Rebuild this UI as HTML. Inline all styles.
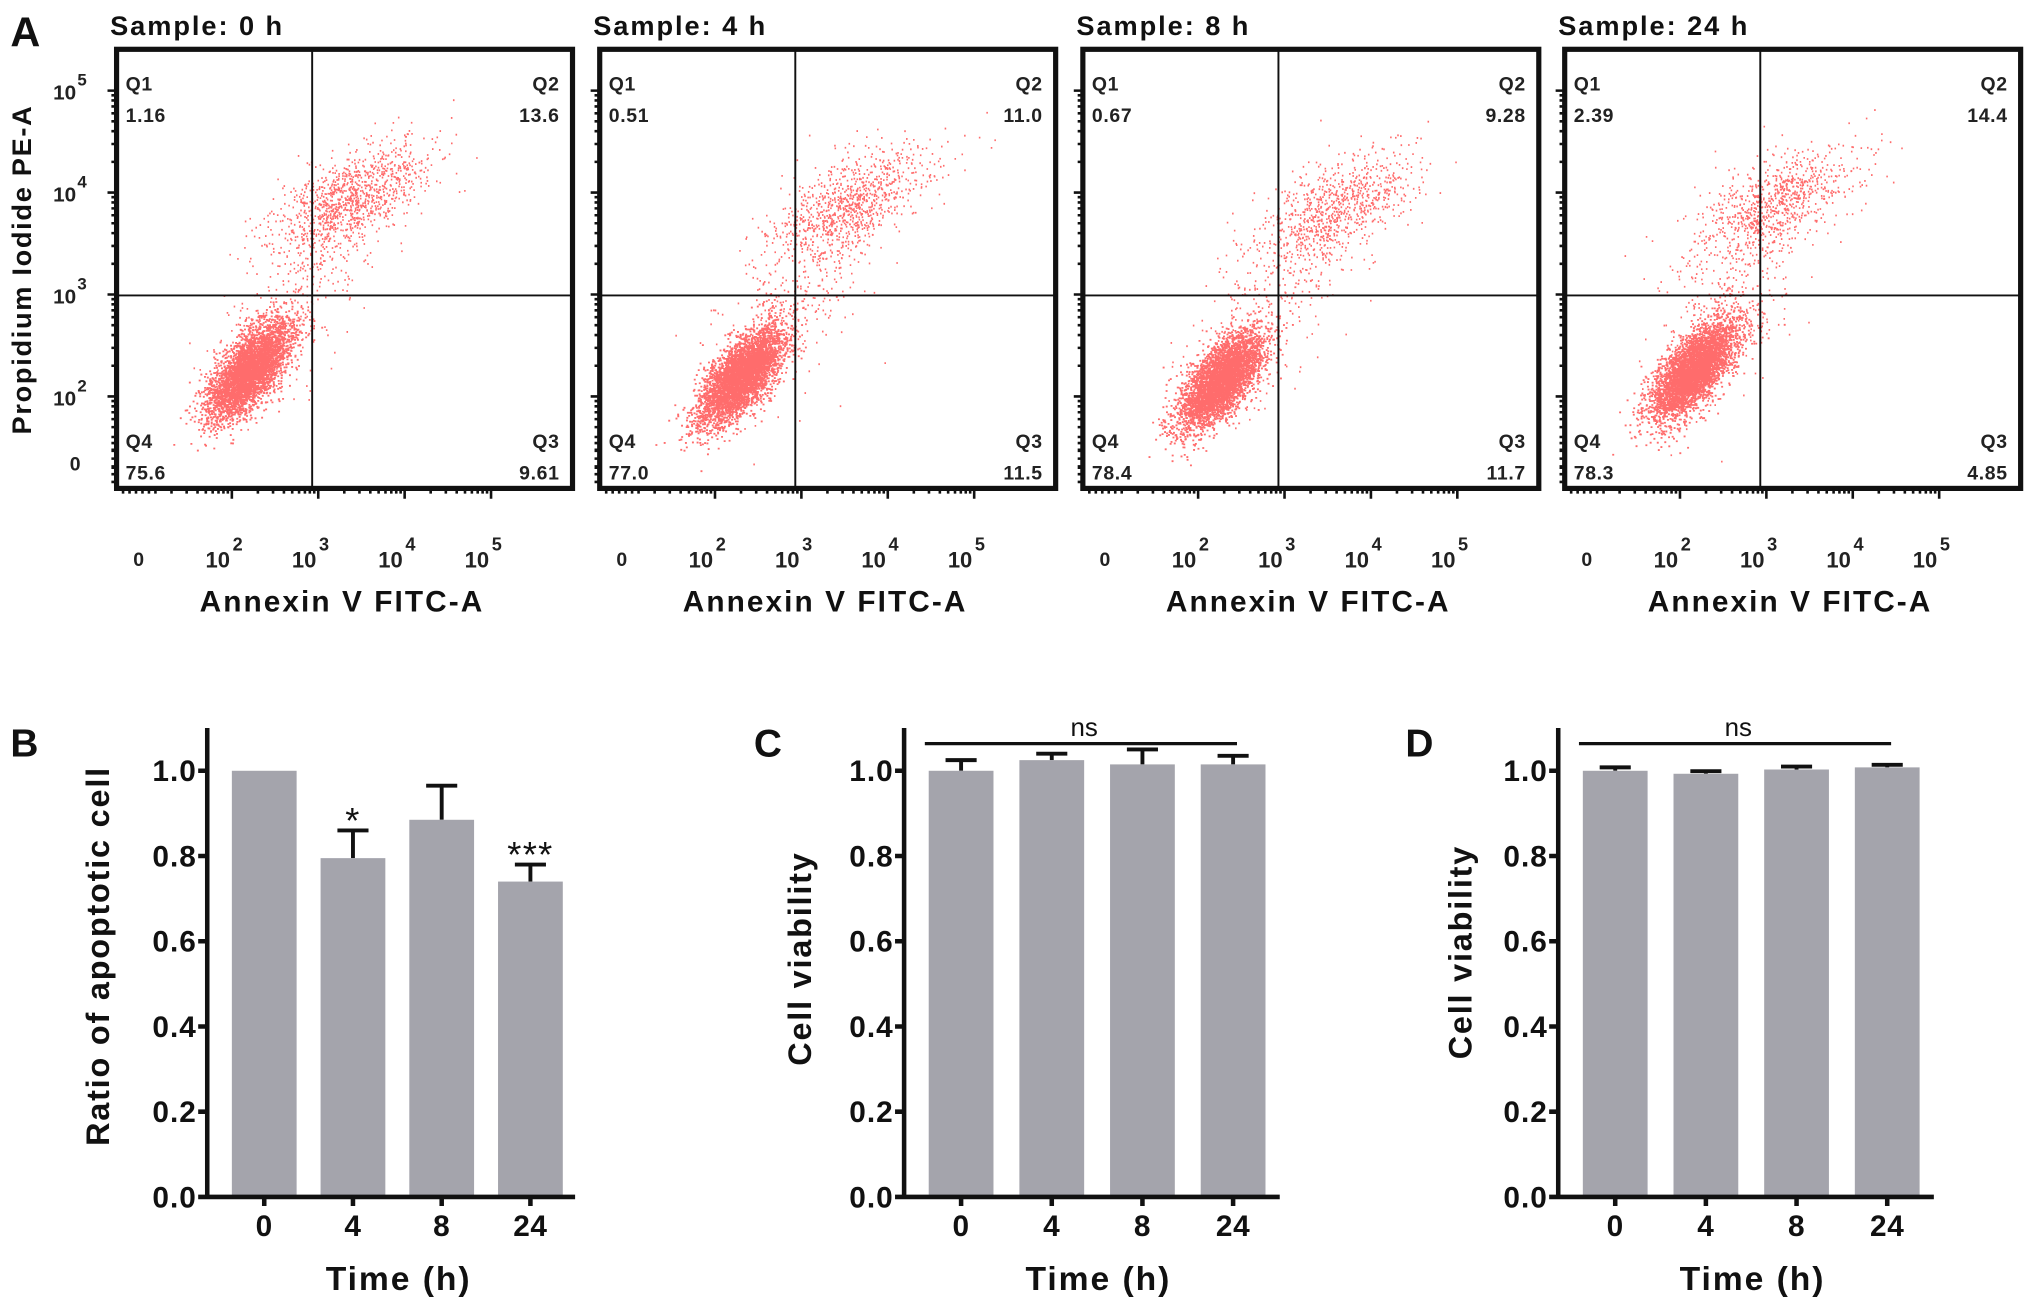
<!DOCTYPE html>
<html><head><meta charset="utf-8">
<style>
html,body{margin:0;padding:0;background:#fff;}
svg{display:block;font-family:"Liberation Sans",Arial,sans-serif;font-weight:bold;}
</style></head>
<body>
<svg id="fig" width="2031" height="1311" viewBox="0 0 1568 1012" xmlns="http://www.w3.org/2000/svg">
<rect width="1568" height="1012" fill="#fff"/>
<g id="flow"></g>
<g id="bars"></g>
</svg>
<script>
// ---------- Panel A data ----------
const sampleTitles = ["Sample: 0 h","Sample: 4 h","Sample: 8 h","Sample: 24 h"];
const q1Values = ["1.16","0.51","0.67","2.39"];
const q2Values = ["13.6","11.0","9.28","14.4"];
const q3Values = ["9.61","11.5","11.7","4.85"];
const q4Values = ["75.6","77.0","78.4","78.3"];
// cluster centers in log10 units [x,y]
const mainCenters = [[2.2,2.25],[2.3,2.2],[2.25,2.15],[2.15,2.25]];
const upperCenters = [[3.4,3.95],[3.6,3.9],[3.6,3.85],[3.1,3.9]];
const mainCounts = [4200,4300,4300,4300];
const upperCounts = [1000,850,750,800];
const xDecadeTicks = [2,3,4,5];
const yDecadeTicks = [2,3,4,5];

// ---------- Bar data ----------
const timeCats = ["0","4","8","24"];
const bValues = [1.0,0.795,0.885,0.74];
const bErr = [0,0.065,0.08,0.04];
const bStars = ["","*","","***"];
const cValues = [1.0,1.025,1.015,1.015];
const cErr = [0.025,0.015,0.035,0.02];
const dValues = [1.0,0.993,1.003,1.008];
const dErr = [0.008,0.006,0.007,0.006];
const yTicks = [0.0,0.2,0.4,0.6,0.8,1.0];

const SVGNS="http://www.w3.org/2000/svg";
function mk(tag,attrs,parent,text){const e=document.createElementNS(SVGNS,tag);for(const k in attrs)e.setAttribute(k,attrs[k]);if(text!==undefined)e.textContent=text;parent.appendChild(e);return e;}
function rng(seed){return function(){seed|=0;seed=seed+0x6D2B79F5|0;let t=Math.imul(seed^seed>>>15,1|seed);t=t+Math.imul(t^t>>>7,61|t)^t;return((t^t>>>14)>>>0)/4294967296;};}

const flow=document.getElementById('flow');
const lefts=[90,463,836,1208], boxTop=38, bot=377, W=352;
let t=mk('text',{x:8,y:36,'font-size':32,fill:'#111'},flow,'A');


const yl=mk('text',{transform:'translate(24,208) rotate(-90)','text-anchor':'middle','font-size':21,'letter-spacing':1.3,fill:'#111'},flow,'Propidium Iodide PE-A');



for(let i=0;i<4;i++){
  const L=lefts[i];
  const xs=d=>L+89+(d-2)*66.7;
  const ys=d=>306-(d-2)*78.7;
  const g=mk('g',{},flow);
  
  
  let tt=mk('text',{x:L-5,y:27,'font-size':21,'letter-spacing':1.5,fill:'#111'},g,sampleTitles[i]);
  
  
  const r=rng(1234+i*77);
  const gauss=()=>Math.sqrt(-2*Math.log(r()+1e-9))*Math.cos(2*Math.PI*r());
  let d='';
  const [mx,my]=mainCenters[i];
  for(let k=0;k<mainCounts[i];k++){
    const a=gauss()*0.3, b=gauss()*0.14;
    const lx=mx+a*0.75-b*0.6, ly=my+a*0.7+b*0.75;
    const px=xs(lx), py=ys(ly);
    if(px>L+2&&px<L+W-2&&py>boxTop+2&&py<bot-2) d+='M'+px.toFixed(1)+' '+py.toFixed(1)+'h1.5';
  }
  const [ux,uy]=upperCenters[i];
  for(let k=0;k<upperCounts[i];k++){
    const a=gauss()*0.5, b=gauss()*0.2;
    const lx=ux+a*0.9-b*0.4, ly=uy+a*0.4+b*0.9;
    const px=xs(lx), py=ys(ly);
    if(px>L+2&&px<L+W-2&&py>boxTop+2&&py<bot-2) d+='M'+px.toFixed(1)+' '+py.toFixed(1)+'h1.2';
  }
  for(let k=0;k<400;k++){
    const s=r();
    const lx=mx+(ux-mx)*s+gauss()*0.3, ly=my+(uy-my)*s+gauss()*0.3;
    const px=xs(lx), py=ys(ly);
    if(px>L+2&&px<L+W-2&&py>boxTop+2&&py<bot-2) d+='M'+px.toFixed(1)+' '+py.toFixed(1)+'h1.2';
  }
  const pts=mk('path',{d:d,stroke:'#ff3b3b','stroke-width':1.4,'stroke-opacity':0.75,fill:'none'},g);
  
  
  const bx=mk('rect',{x:L,y:boxTop,width:W,height:bot-boxTop,fill:'none',stroke:'#111','stroke-width':4},g);
  
  
  const gx=L+151, gy=228;
  const vl=mk('line',{x1:gx,y1:boxTop,x2:gx,y2:bot,stroke:'#111','stroke-width':1.5},g);
  
  
  const hl=mk('line',{x1:L,y1:gy,x2:L+W,y2:gy,stroke:'#111','stroke-width':1.5},g);
  
  
  const ql=[["Q1",q1Values[i],L+7,70,'start'],["Q2",q2Values[i],L+W-10,70,'end'],["Q4",q4Values[i],L+7,346,'start'],["Q3",q3Values[i],L+W-10,346,'end']];
  ql.forEach(q=>{
    const a=mk('text',{x:q[2],y:q[3],'font-size':15,'letter-spacing':0.5,'text-anchor':q[4],fill:'#222'},g,q[0]);
    
    
    const b=mk('text',{x:q[2],y:q[3]+24,'font-size':15,'letter-spacing':0.5,'text-anchor':q[4],fill:'#222'},g,q[1]);
    
    
  });
  let tk='';
  xDecadeTicks.forEach(dd=>{const x=xs(dd);tk+='M'+x+' '+bot+'v8';for(let m=2;m<10;m++){const xm=xs(dd-1+Math.log10(m));if(xm>L+10)tk+='M'+xm.toFixed(1)+' '+bot+'v4';}});
  for(let k=0;k<6;k++)tk+='M'+(L+5+k*5)+' '+bot+'v4';
  yDecadeTicks.forEach(dd=>{const y=ys(dd);tk+='M'+L+' '+y+'h-7';for(let m=2;m<10;m++){const ym=ys(dd-1+Math.log10(m));if(ym<bot-10)tk+='M'+L+' '+ym.toFixed(1)+'h-4';}});
  for(let k=0;k<6;k++)tk+='M'+L+' '+(bot-5-k*6)+'h-4';
  const tp=mk('path',{d:tk,stroke:'#111','stroke-width':2,fill:'none'},g);
  
  
  let z=mk('text',{x:L+17,y:437,'font-size':15,'text-anchor':'middle',fill:'#222'},g,'0');
  
  
  xDecadeTicks.forEach(dd=>{
    const e=mk('text',{x:xs(dd)-6,y:438,'font-size':17,'text-anchor':'middle',fill:'#222'},g,'10');
    
    
    mk('tspan',{dy:-13,dx:2,'font-size':14},e,String(dd));
  });
  if(i===0){
    yDecadeTicks.forEach(dd=>{
      const e=mk('text',{x:L-36,y:ys(dd)+7,'font-size':16,'text-anchor':'middle',fill:'#222'},g,'10');
      
      
      mk('tspan',{dy:-11,dx:1,'font-size':13},e,String(dd));
    });
    const z2=mk('text',{x:L-32,y:363,'font-size':15,'text-anchor':'middle',fill:'#222'},g,'0');
    
    
  }
  const xt=mk('text',{x:L+174,y:472,'font-size':23,'letter-spacing':1.6,'text-anchor':'middle',fill:'#111'},g,'Annexin V FITC-A');
  
  
}

const barsG=document.getElementById('bars');
function barChart(cfg){
  const g=mk('g',{},barsG);
  
  
  const y0=924, yTop=562, per=329;
  const ys=v=>y0-v*per;
  const xs=k=>cfg.ax+44+k*cfg.step;
  const lab=mk('text',{x:cfg.lx,y:584,'font-size':30,fill:'#111'},g,cfg.letter);
  
  
  cfg.values.forEach((v,k)=>{
    const x=xs(k);
    if(cfg.err[k]>0){
      const e=mk('path',{d:'M'+x+' '+ys(v)+'V'+ys(v+cfg.err[k])+'M'+(x-12)+' '+ys(v+cfg.err[k])+'H'+(x+12),stroke:'#111','stroke-width':3,fill:'none'},g);
      
      
    }
    const b=mk('rect',{x:x-25,y:ys(v),width:50,height:y0-ys(v),fill:'#a4a4ac'},g);
    
    
    const tl=mk('text',{x:x,y:y0+30,'font-size':23,'letter-spacing':0.5,'text-anchor':'middle',fill:'#111'},g,timeCats[k]);
    
    
    if(cfg.stars&&cfg.stars[k]){
      const s=mk('text',{x:x,y:ys(v+cfg.err[k])+2,'font-size':28,'font-weight':'normal','letter-spacing':1,'text-anchor':'middle',fill:'#111'},g,cfg.stars[k]);
      
      
    }
  });
  let ax='M'+cfg.ax+' '+yTop+'V'+y0+'H'+(cfg.ax+cfg.step*4+10);
  yTicks.forEach(v=>{ax+='M'+cfg.ax+' '+ys(v)+'h-7';});
  cfg.values.forEach((v,k)=>{ax+='M'+xs(k)+' '+y0+'v7';});
  const axp=mk('path',{d:ax,stroke:'#111','stroke-width':3.5,fill:'none'},g);
  
  
  yTicks.forEach(v=>{
    const e=mk('text',{x:cfg.ax-8,y:ys(v)+8,'font-size':23,'letter-spacing':0.8,'text-anchor':'end',fill:'#111'},g,v.toFixed(1));
    
    
  });
  const yt=mk('text',{transform:'translate('+cfg.ytx+','+cfg.yty+') rotate(-90)','font-size':25,'letter-spacing':1.4,'text-anchor':'middle',fill:'#111'},g,cfg.ytitle);
  
  
  const xt=mk('text',{x:cfg.ax+45+cfg.step*1.5,y:996,'font-size':26,'letter-spacing':1.5,'text-anchor':'middle',fill:'#111'},g,'Time (h)');
  
  
  if(cfg.ns){
    const l=mk('line',{x1:xs(0)-28,y1:574,x2:xs(3)+3,y2:574,stroke:'#111','stroke-width':2.5},g);
    
    
    const n=mk('text',{x:(xs(0)+xs(3))/2-10,y:568,'font-size':20,'font-weight':'normal','text-anchor':'middle',fill:'#111'},g,'ns');
    
    
  }
}
barChart({name:'panel-b-apoptosis-chart',letter:'B',lx:8,ax:160,step:68.5,values:bValues,err:bErr,stars:bStars,ytitle:'Ratio of apoptotic cell',ytx:84,yty:738});
barChart({name:'panel-c-viability-chart',letter:'C',lx:582,ax:698,step:70,values:cValues,err:cErr,ns:true,ytitle:'Cell viability',ytx:626,yty:740});
barChart({name:'panel-d-viability-chart',letter:'D',lx:1085,ax:1203,step:70,values:dValues,err:dErr,ns:true,ytitle:'Cell viability',ytx:1136,yty:735});
</script>
</body></html>
